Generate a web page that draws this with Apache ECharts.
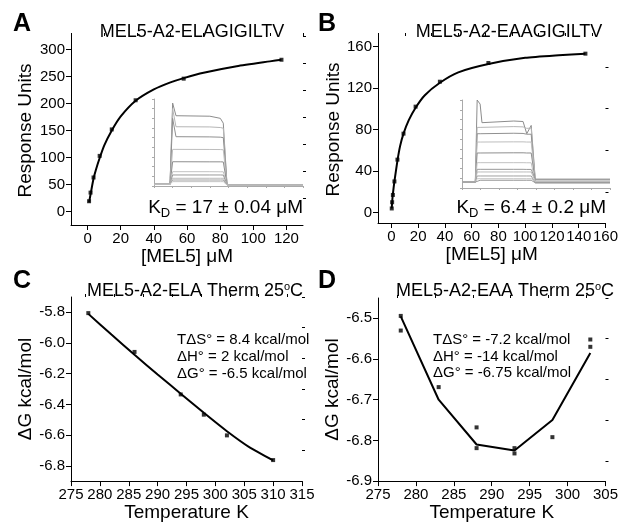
<!DOCTYPE html>
<html>
<head>
<meta charset="utf-8">
<script src="https://cdn.jsdelivr.net/npm/echarts@6/dist/echarts.min.js"></script>
<style>
html, body { margin: 0; padding: 0; background: #fff; }
#chart { width: 621px; height: 523px; }
</style>
</head>
<body>
<div id="chart"></div>
<script>
// A: MEL5 binding to A2-ELAGIGILTV (points + fitted curve)
var concA = [0.9, 1.8, 3.6, 7.3, 14.6, 29, 58, 117];
var respA = [19, 35, 63, 103, 152, 206, 246, 281];
var fitConcA = [0.9, 2, 3.6, 5, 7.3, 10, 14.6, 20, 29, 40, 50, 58, 70, 90, 110, 117];
var fitRespA = [17, 35, 61, 77, 99, 122, 150, 176, 205, 226, 239, 247, 257, 269, 278, 281];

// B: MEL5 binding to A2-EAAGIGILTV
var concB = [0.28, 0.57, 1.13, 2.27, 4.53, 9.06, 18.1, 36.25, 72.5, 145];
var respB = [4, 10, 17, 30, 51, 76, 102, 126, 144, 153];
var fitConcB = [0.28, 0.57, 1.13, 2.27, 4.53, 6.5, 9.06, 13, 18.1, 25, 36.25, 50, 72.5, 100, 125, 145];
var fitRespB = [4, 10, 18, 30, 50, 64, 76, 89, 101, 113, 125, 135, 143, 149, 151.5, 153];

// C: van't Hoff, ELA
var tempC = [278, 286, 294, 298, 302, 310];
var dgC = [-5.805, -6.058, -6.335, -6.467, -6.602, -6.763];
var fitTempC = [278, 282, 286, 290, 294, 298, 302, 306, 310];
var fitDgC = [-5.81, -5.945, -6.077, -6.205, -6.33, -6.455, -6.575, -6.682, -6.765];

// D: van't Hoff, EAA
var tempD = [278, 278, 283, 288, 288, 293, 293, 298, 303, 303];
var dgD = [-6.494, -6.53, -6.669, -6.768, -6.819, -6.819, -6.832, -6.792, -6.552, -6.570];
var lineTempD = [278, 283, 288, 293, 298, 303];
var lineDgD = [-6.495, -6.70, -6.81, -6.825, -6.75, -6.585];

// tick labels
var ticksAx = [0, 20, 40, 60, 80, 100, 120];
var minorAx = [-10, 10, 30, 50, 70, 90, 110, 130];
var ticksAy = [0, 50, 100, 150, 200, 250, 300];
var minorAy = [25, 75, 125, 175, 225, 275, 325];
var ticksBx = [0, 20, 40, 60, 80, 100, 120, 140, 160];
var minorBx = [-10, 10, 30, 50, 70, 90, 110, 130, 150];
var ticksBy = [0, 40, 80, 120, 160];
var minorBy = [20, 60, 100, 140];
var ticksCx = [275, 280, 285, 290, 295, 300, 305, 310, 315];
var minorCx = [277.5, 282.5, 287.5, 292.5, 297.5, 302.5, 307.5, 312.5];
var ticksCy = [-6.8, -6.6, -6.4, -6.2, -6.0, -5.8];
var minorCy = [-6.7, -6.5, -6.3, -6.1, -5.9, -5.7];
var ticksDx = [275, 280, 285, 290, 295, 300, 305];
var minorDx = [277.5, 282.5, 287.5, 292.5, 297.5, 302.5];
var ticksDy = [-6.9, -6.8, -6.7, -6.6, -6.5];
var minorDy = [-6.85, -6.75, -6.65, -6.55, -6.45];

// inset sensorgrams (time s, response)
var insetTimeA = [0, 43, 50, 59, 150, 178, 186, 196, 400];
var insetTracesA = [
    [18, 18, 858, 727, 722, 700, 650, 15, 15],
    [18, 18, 800, 613, 611, 605, 598, 15, 15],
    [18, 18, 700, 510, 508, 505, 500, 15, 15],
    [18, 18, 379, 379, 378, 377, 375, 15, 15],
    [18, 18, 251, 251, 250, 250, 249, 15, 15],
    [18, 18, 148, 148, 148, 147, 147, 12, 12],
    [18, 18, 114, 114, 114, 114, 113, 12, 12],
    [18, 18, 80, 80, 80, 80, 80, 10, 10],
    [18, 18, 62, 62, 62, 62, 62, 10, 10],
    [18, 18, 45, 45, 45, 45, 45, 10, 10]
];
var insetTimeB = [0, 36, 41, 49, 54, 140, 165, 175, 187, 198, 400];
var insetTracesB = [
    [61, 61, 900, 858, 668, 685, 680, 555, 640, 89, 89],
    [61, 61, 620, 620, 620, 628, 625, 610, 612, 69, 69],
    [61, 61, 555, 555, 555, 560, 558, 550, 550, 54, 54],
    [61, 61, 470, 470, 470, 472, 472, 470, 470, 89, 89],
    [61, 61, 358, 358, 358, 360, 360, 358, 358, 69, 69],
    [61, 61, 259, 259, 259, 259, 259, 258, 258, 54, 54],
    [61, 61, 191, 191, 191, 191, 191, 190, 190, 89, 89],
    [61, 61, 164, 164, 164, 164, 164, 164, 164, 69, 69],
    [61, 61, 123, 123, 123, 123, 123, 123, 123, 54, 54],
    [61, 61, 95, 95, 95, 95, 95, 95, 95, 69, 69],
    [61, 61, 79, 79, 79, 79, 79, 79, 79, 54, 54]
];

var ff = 'Liberation Sans, Arial, sans-serif';
var grays = ['#8c8c8c', '#b5b5b5', '#909090', '#bdbdbd', '#8e8e8e', '#c2c2c2', '#999999', '#bbbbbb', '#a0a0a0', '#c4c4c4', '#9a9a9a'];

function zip(xs, ys) {
    return xs.map(function (x, i) { return [x, ys[i]]; });
}

function majorAxis(grid, min, max, ticks, fmt, name, nameGap) {
    return {
        type: 'value', gridIndex: grid, min: min, max: max,
        name: name, nameLocation: 'middle', nameGap: nameGap,
        nameTextStyle: { fontSize: 19, color: '#000', fontFamily: ff },
        axisLine: { show: true, onZero: false, lineStyle: { color: '#000', width: 1 } },
        axisTick: { show: true, length: 5, customValues: ticks, lineStyle: { color: '#000' } },
        axisLabel: { customValues: ticks, formatter: fmt, fontSize: 15, color: '#000', fontFamily: ff, margin: 6 },
        splitLine: { show: false }
    };
}
function minorAxis(grid, min, max, ticks) {
    return {
        type: 'value', gridIndex: grid, min: min, max: max,
        axisLine: { show: false, onZero: false },
        axisTick: { show: true, length: 3, customValues: ticks, lineStyle: { color: '#000' } },
        axisLabel: { show: false },
        splitLine: { show: false }
    };
}
function insetAxis(grid, min, max, interval) {
    return {
        type: 'value', gridIndex: grid, min: min, max: max, interval: interval,
        axisLine: { show: true, onZero: false, lineStyle: { color: '#aaa', width: 1 } },
        axisTick: { show: true, length: 2, lineStyle: { color: '#aaa' } },
        axisLabel: { show: false },
        splitLine: { show: false }
    };
}
var intFmt = function (v) { return String(Math.round(v)); };
var decFmt = function (v) { return v.toFixed(1); };

var series = [];
function addPanel(axisIdx, fitX, fitY, ptsX, ptsY, smooth) {
    series.push({
        type: 'line', xAxisIndex: axisIdx, yAxisIndex: axisIdx,
        data: zip(fitX, fitY), smooth: smooth,
        showSymbol: false, lineStyle: { color: '#000', width: 2 }, z: 3
    });
    series.push({
        type: 'scatter', xAxisIndex: axisIdx, yAxisIndex: axisIdx,
        data: zip(ptsX, ptsY), symbol: 'rect', symbolSize: 4,
        itemStyle: { color: '#000' }, z: 4
    });
}
addPanel(0, fitConcA, fitRespA, concA, respA, 0.2);
addPanel(2, fitConcB, fitRespB, concB, respB, 0.2);
addPanel(4, fitTempC, fitDgC, tempC, dgC, 0.2);
addPanel(6, lineTempD, lineDgD, tempD, dgD, false);

insetTracesA.forEach(function (tr, i) {
    series.push({
        type: 'line', xAxisIndex: 8, yAxisIndex: 8, data: zip(insetTimeA, tr),
        showSymbol: false, lineStyle: { color: grays[i], width: 1 }, z: 1
    });
});
insetTracesB.forEach(function (tr, i) {
    series.push({
        type: 'line', xAxisIndex: 9, yAxisIndex: 9, data: zip(insetTimeB, tr),
        showSymbol: false, lineStyle: { color: grays[i], width: 1 }, z: 1
    });
});

function txt(x, y, text, size, align, extra) {
    var s = { text: text, fontSize: size, fontFamily: ff, fill: '#000', align: align, verticalAlign: 'middle' };
    if (extra) { for (var k in extra) s[k] = extra[k]; }
    return { type: 'text', x: x, y: y, style: s, silent: true };
}
var kdRich = {
    k: { fontSize: 19, fontFamily: ff, color: '#000' },
    s: { fontSize: 13, fontFamily: ff, color: '#000', padding: [10, 0, 0, 0] }
};
var degRich = {
    t: { fontSize: 18, fontFamily: ff, color: '#000' },
    o: { fontSize: 11, fontFamily: ff, color: '#000', padding: [0, 0, 9, 0] }
};

var chart = echarts.init(document.getElementById('chart'));
chart.setOption({
    animation: false,
    grid: [
        { left: 71, top: 36, width: 232, height: 189 },
        { left: 378, top: 36, width: 231, height: 187 },
        { left: 71, top: 297, width: 231, height: 188 },
        { left: 378, top: 298, width: 230, height: 187 },
        { left: 154, top: 99, width: 149, height: 87 },
        { left: 462, top: 100, width: 148, height: 88 }
    ],
    xAxis: [
        majorAxis(0, -10, 130, ticksAx, intFmt, '[MEL5] μM', 22),
        minorAxis(0, -10, 130, minorAx),
        majorAxis(1, -10, 160, ticksBx, intFmt, '[MEL5] μM', 22),
        minorAxis(1, -10, 160, minorBx),
        majorAxis(2, 275, 315, ticksCx, intFmt, 'Temperature K', 18),
        minorAxis(2, 275, 315, minorCx),
        majorAxis(3, 275, 305, ticksDx, intFmt, 'Temperature K', 18),
        minorAxis(3, 275, 305, minorDx),
        insetAxis(4, 0, 400, 50),
        insetAxis(5, 0, 400, 50)
    ],
    yAxis: [
        majorAxis(0, -25, 325, ticksAy, intFmt, 'Response Units', 36),
        minorAxis(0, -25, 325, minorAy),
        majorAxis(1, -10, 170, ticksBy, intFmt, 'Response Units', 30),
        minorAxis(1, -10, 170, minorBy),
        majorAxis(2, -6.9, -5.7, ticksCy, decFmt, 'ΔG kcal/mol', 36),
        minorAxis(2, -6.9, -5.7, minorCy),
        majorAxis(3, -6.9, -6.45, ticksDy, decFmt, 'ΔG kcal/mol', 30),
        minorAxis(3, -6.9, -6.45, minorDy),
        insetAxis(4, 0, 900, 100),
        insetAxis(5, 0, 900, 100)
    ],
    series: series,
    graphic: [
        txt(13, 24, 'A', 25, 'left', { fontWeight: 'bold' }),
        txt(318, 24, 'B', 25, 'left', { fontWeight: 'bold' }),
        txt(13, 281, 'C', 25, 'left', { fontWeight: 'bold' }),
        txt(318, 281, 'D', 25, 'left', { fontWeight: 'bold' }),
        txt(192, 32, 'MEL5-A2-ELAGIGILTV', 18, 'center'),
        txt(509, 32, 'MEL5-A2-EAAGIGILTV', 18, 'center'),
        txt(195, 291, '{t|MEL5-A2-ELA Therm 25}{o|o}{t|C}', 18, 'center', { rich: degRich }),
        txt(505, 291, '{t|MEL5-A2-EAA Therm 25}{o|o}{t|C}', 18, 'center', { rich: degRich }),
        txt(303, 208, '{k|K}{s|D}{k| = 17 ± 0.04 μM}', 19, 'right', { rich: kdRich }),
        txt(606, 208, '{k|K}{s|D}{k| = 6.4 ± 0.2 μM}', 19, 'right', { rich: kdRich }),
        txt(177, 340, 'TΔS° = 8.4 kcal/mol', 15, 'left'),
        txt(177, 357, 'ΔH° = 2 kcal/mol', 15, 'left'),
        txt(177, 374, 'ΔG° = -6.5 kcal/mol', 15, 'left'),
        txt(433, 340, 'TΔS° = -7.2 kcal/mol', 15, 'left'),
        txt(433, 357, 'ΔH° = -14 kcal/mol', 15, 'left'),
        txt(433, 373, 'ΔG° = -6.75 kcal/mol', 15, 'left')
    ]
});
</script>
</body>
</html>
